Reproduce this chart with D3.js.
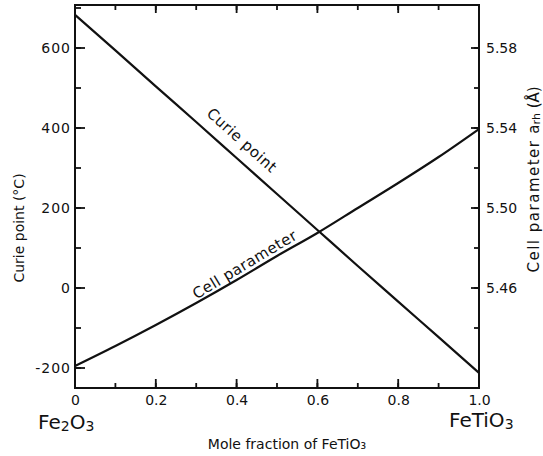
<!DOCTYPE html>
<html>
<head>
<meta charset="utf-8">
<script src="https://cdn.jsdelivr.net/npm/d3@7"></script>
<style>
    body { margin: 0; background: #fff; }
    text { font-family: "DejaVu Sans", sans-serif; fill: #111; }
</style>
</head>
<body>
<svg id="chart" width="543" height="456"></svg>
<script>
var fractions = [0, 0.1, 0.2, 0.3, 0.4, 0.5, 0.6, 0.7, 0.8, 0.9, 1.0];

// Curie point (deg C), left axis.
var curiePoint = [683, 594, 504, 415, 325, 235, 145, 55, -34, -123, -212];

// Cell parameter a_rh (Angstrom), right axis.
var cellParameter = [5.421, 5.431, 5.4415, 5.4525, 5.464, 5.476, 5.4875, 5.500, 5.5125, 5.5255, 5.5395];

var xTicks = [0, 0.2, 0.4, 0.6, 0.8, 1.0];
var xTickLabels = ["0", "0.2", "0.4", "0.6", "0.8", "1.0"];
var curieTicks = [-200, 0, 200, 400, 600];
var cellTicks = [5.46, 5.50, 5.54, 5.58];

var width = 543;
var height = 456;
var margin = {top: 5, right: 64, bottom: 68, left: 75};

var svg = d3.select("#chart");

var x = d3.scaleLinear().domain([0, 1]).range([margin.left, width - margin.right]);
var yLeft = d3.scaleLinear().domain([-250, 707.5]).range([height - margin.bottom, margin.top]);
var yRight = d3.scaleLinear().domain([5.41, 5.6015]).range([height - margin.bottom, margin.top]);

var minorX = d3.range(0, 11).map(function (i) { return i / 10; });
var minorLeft = d3.range(-200, 701, 100);
var minorRight = d3.range(0, 8).map(function (i) { return 5.44 + i * 0.02; });

var ink = "#111";

// Inward tick marks, drawn as plain lines from the scales.
// side: "bottom", "top", "left", "right"; len: length in px.
function ticks(values, scale, side, len) {
    var g = svg.append("g").attr("class", "ticks-" + side);
    g.selectAll("line")
        .data(values)
        .join("line")
        .attr("x1", function (d) {
            if (side === "left") return margin.left;
            if (side === "right") return width - margin.right;
            return scale(d);
        })
        .attr("x2", function (d) {
            if (side === "left") return margin.left + len;
            if (side === "right") return width - margin.right - len;
            return scale(d);
        })
        .attr("y1", function (d) {
            if (side === "bottom") return height - margin.bottom;
            if (side === "top") return margin.top;
            return scale(d);
        })
        .attr("y2", function (d) {
            if (side === "bottom") return height - margin.bottom - len;
            if (side === "top") return margin.top + len;
            return scale(d);
        })
        .attr("stroke", ink)
        .attr("stroke-width", 1.8);
}

ticks(minorX, x, "bottom", 5);
ticks(xTicks, x, "bottom", 9);
ticks(minorX, x, "top", 5);
ticks(xTicks, x, "top", 8);
ticks(minorLeft, yLeft, "left", 6);
ticks(curieTicks, yLeft, "left", 10);
ticks(minorRight, yRight, "right", 5);
ticks(cellTicks, yRight, "right", 8);

// Tick labels through d3 axes with zero-length ticks.
function bare(g) {
    g.select(".domain").remove();
    g.selectAll(".tick line").remove();
    g.selectAll("text").style("font-size", "14px").style("font-family", "DejaVu Sans, sans-serif");
}

svg.append("g")
    .attr("transform", "translate(0," + (height - margin.bottom) + ")")
    .call(d3.axisBottom(x).tickValues(xTicks).tickSize(0).tickPadding(7)
        .tickFormat(function (d, i) { return xTickLabels[i]; }))
    .call(bare);

svg.append("g")
    .attr("transform", "translate(" + margin.left + ",0)")
    .call(d3.axisLeft(yLeft).tickValues(curieTicks).tickSize(0).tickPadding(4)
        .tickFormat(function (d) { return d < 0 ? "-" + Math.abs(d) : d; }))
    .call(bare)
    .call(function (g) { g.selectAll("text").style("letter-spacing", "1px"); });

svg.append("g")
    .attr("transform", "translate(" + (width - margin.right) + ",0)")
    .call(d3.axisRight(yRight).tickValues(cellTicks).tickSize(0).tickPadding(7)
        .tickFormat(d3.format(".2f")))
    .call(bare);

// Frame.
svg.append("rect")
    .attr("x", margin.left)
    .attr("y", margin.top)
    .attr("width", width - margin.left - margin.right)
    .attr("height", height - margin.top - margin.bottom)
    .attr("fill", "none")
    .attr("stroke", ink)
    .attr("stroke-width", 2);

// Curves.
var curieLine = d3.line()
    .x(function (d, i) { return x(fractions[i]); })
    .y(function (d) { return yLeft(d); })
    .curve(d3.curveMonotoneX);
var cellLine = d3.line()
    .x(function (d, i) { return x(fractions[i]); })
    .y(function (d) { return yRight(d); })
    .curve(d3.curveMonotoneX);

svg.append("path")
    .datum(curiePoint)
    .attr("d", curieLine)
    .attr("fill", "none")
    .attr("stroke", ink)
    .attr("stroke-width", 2.2);
svg.append("path")
    .datum(cellParameter)
    .attr("d", cellLine)
    .attr("fill", "none")
    .attr("stroke", ink)
    .attr("stroke-width", 2.2);

// Labels along the curves.
svg.append("text")
    .attr("transform", "translate(" + x(0.412) + "," + yLeft(368) + ") rotate(42)")
    .attr("text-anchor", "middle")
    .attr("dominant-baseline", "middle")
    .style("font-size", "15px")
    .style("letter-spacing", "0.5px")
    .text("Curie point");
svg.append("text")
    .attr("transform", "translate(" + x(0.421) + "," + yRight(5.4715) + ") rotate(-31)")
    .attr("text-anchor", "middle")
    .attr("dominant-baseline", "middle")
    .style("font-size", "15px")
    .style("letter-spacing", "0.5px")
    .text("Cell  parameter");

// Axis titles.
svg.append("text")
    .attr("transform", "translate(20,228) rotate(-90)")
    .attr("text-anchor", "middle")
    .attr("dominant-baseline", "middle")
    .style("font-size", "14px")
    .text("Curie point (°C)");

svg.append("text")
    .attr("transform", "translate(534,206) rotate(-90)")
    .attr("text-anchor", "middle")
    .attr("dominant-baseline", "middle")
    .style("font-size", "15px")
    .style("letter-spacing", "1.5px")
    .text("Cell parameter");

var unitTitle = svg.append("text")
    .attr("transform", "translate(534,110) rotate(-90)")
    .attr("text-anchor", "middle")
    .attr("dominant-baseline", "middle")
    .style("font-size", "15px");
unitTitle.append("tspan").text("a");
unitTitle.append("tspan").attr("dy", 3).style("font-size", "11px").text("rh");
unitTitle.append("tspan").attr("dy", -3).text(" (Å)");

svg.append("text")
    .attr("x", 287)
    .attr("y", 445)
    .attr("text-anchor", "middle")
    .attr("dominant-baseline", "middle")
    .style("font-size", "14px")
    .text("Mole fraction of FeTiO₃");

// End member labels.
var leftEnd = svg.append("text")
    .attr("x", x(0) - 37)
    .attr("y", 429)
    .style("font-size", "20px");
leftEnd.append("tspan").text("Fe");
leftEnd.append("tspan").attr("dy", 2).style("font-size", "14px").text("2");
leftEnd.append("tspan").attr("dy", -2).text("O");
leftEnd.append("tspan").attr("dy", 2).style("font-size", "14px").text("3");

var rightEnd = svg.append("text")
    .attr("x", x(1) - 30)
    .attr("y", 427)
    .style("font-size", "20px");
rightEnd.append("tspan").text("FeTiO");
rightEnd.append("tspan").attr("dy", 2).style("font-size", "14px").text("3");
</script>
</body>
</html>
